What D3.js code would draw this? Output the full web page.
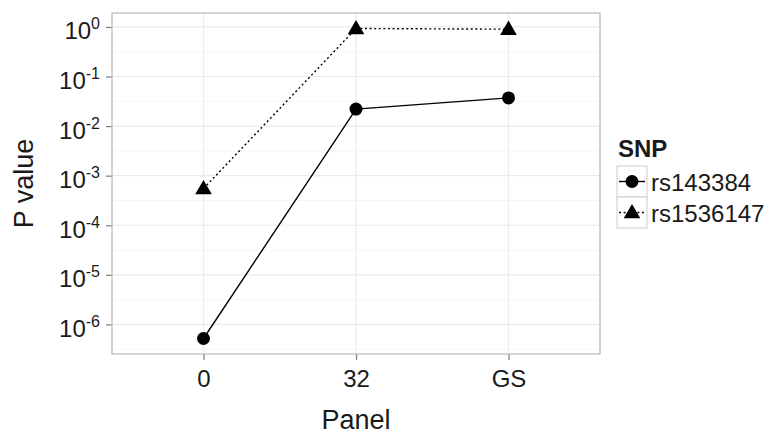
<!DOCTYPE html>
<html>
<head>
<meta charset="utf-8">
<script src="https://cdn.jsdelivr.net/npm/d3@7"></script>
<style>
  body { margin: 0; background: #fff; }
  text { font-family: "Liberation Sans", Arial, Helvetica, sans-serif; fill: #1a1a1a; }
</style>
</head>
<body>
<div id="main"></div>
<script>
// values
const panels = ["0", "32", "GS"];
const snps = ["rs143384", "rs1536147"];
const pRs143384 = [5.2e-7, 0.022, 0.037];
const pRs1536147 = [5.5e-4, 0.93, 0.9];
const yTicks = [0, -1, -2, -3, -4, -5, -6];   // exponents of 10

const W = 770, H = 434;
const plot = { left: 112, right: 600, top: 13, bottom: 354 };

const series = [
    { name: snps[0], values: pRs143384, shape: "circle", dash: null },
    { name: snps[1], values: pRs1536147, shape: "triangle", dash: "2,2.6" }
];

let svg = d3.select("#main").append("svg").attr("width", W).attr("height", H);

// log domain with 5% expansion (like ggplot)
let all = pRs143384.concat(pRs1536147).map(v => Math.log10(v));
let lo = d3.min(all), hi = d3.max(all);
let pad = (hi - lo) * 0.05;
let y = d3.scaleLog()
    .domain([Math.pow(10, lo - pad), Math.pow(10, hi + pad)])
    .range([plot.bottom, plot.top]);

let x = d3.scalePoint()
    .domain(panels)
    .range([plot.left, plot.right])
    .padding(0.6);

// grid
let grid = svg.append("g");
let minor = d3.range(Math.ceil(lo - pad) - 0.5, hi + pad, 1).filter(e => e > lo - pad && e < hi + pad);
grid.selectAll(".minor").data(minor).enter().append("line")
    .attr("x1", plot.left).attr("x2", plot.right)
    .attr("y1", d => y(Math.pow(10, d))).attr("y2", d => y(Math.pow(10, d)))
    .attr("stroke", "#f5f5f5").attr("stroke-width", 1);
grid.selectAll(".major").data(yTicks).enter().append("line")
    .attr("x1", plot.left).attr("x2", plot.right)
    .attr("y1", d => y(Math.pow(10, d))).attr("y2", d => y(Math.pow(10, d)))
    .attr("stroke", "#ebebeb").attr("stroke-width", 1.2);
grid.selectAll(".vmajor").data(panels).enter().append("line")
    .attr("x1", d => x(d)).attr("x2", d => x(d))
    .attr("y1", plot.top).attr("y2", plot.bottom)
    .attr("stroke", "#ebebeb").attr("stroke-width", 1.2);

// axes
let yAxis = svg.append("g")
    .attr("transform", `translate(${plot.left},0)`)
    .call(d3.axisLeft(y).tickValues(yTicks.map(e => Math.pow(10, e))).tickSize(6).tickPadding(5).tickFormat(""));
yAxis.select(".domain").remove();
yAxis.selectAll(".tick line").attr("stroke", "#7f7f7f").attr("stroke-width", 1.2);
yAxis.selectAll(".tick text").remove();
yAxis.selectAll(".tick").each(function(d) {
    let e = Math.round(Math.log10(d));
    let t = d3.select(this).append("text")
        .attr("x", -12).attr("y", 12)
        .attr("text-anchor", "end")
        .style("font-size", "24px");
    t.append("tspan").text("10");
    t.append("tspan").attr("dy", -10).style("font-size", "16px").text(e);
});

let xAxis = svg.append("g")
    .attr("transform", `translate(0,${plot.bottom})`)
    .call(d3.axisBottom(x).tickSize(6).tickPadding(6));
xAxis.select(".domain").remove();
xAxis.selectAll(".tick line").attr("stroke", "#7f7f7f").attr("stroke-width", 1.2);
xAxis.selectAll(".tick text")
    .attr("y", 33).attr("dy", null)
    .style("font-size", "24px").style("fill", "#1a1a1a");

// panel border
svg.append("rect")
    .attr("x", plot.left).attr("y", plot.top)
    .attr("width", plot.right - plot.left).attr("height", plot.bottom - plot.top)
    .attr("fill", "none").attr("stroke", "#b8b8b8").attr("stroke-width", 1.2);

// lines + points
let triangle = d3.symbol().type(d3.symbolTriangle).size(120);
let line = d3.line().x((d, i) => x(panels[i])).y(d => y(d));

series.forEach(s => {
    svg.append("path")
        .attr("d", line(s.values))
        .attr("fill", "none").attr("stroke", "#000").attr("stroke-width", 1.4)
        .attr("stroke-dasharray", s.dash);
    s.values.forEach((v, i) => {
        if (s.shape === "circle") {
            svg.append("circle").attr("cx", x(panels[i])).attr("cy", y(v)).attr("r", 6.5).attr("fill", "#000");
        } else {
            svg.append("path").attr("d", triangle)
                .attr("transform", `translate(${x(panels[i])},${y(v) + 1})`).attr("fill", "#000");
        }
    });
});

// axis titles
svg.append("text")
    .attr("x", (plot.left + plot.right) / 2).attr("y", 429)
    .attr("text-anchor", "middle").style("font-size", "27px").text("Panel");
svg.append("text")
    .attr("transform", `translate(33,${(plot.top + plot.bottom) / 2}) rotate(-90)`)
    .attr("text-anchor", "middle").style("font-size", "27px").text("P value");

// legend
let lg = svg.append("g").attr("transform", "translate(617,135)");
lg.append("text").attr("x", 1).attr("y", 22)
    .style("font-size", "24px").style("font-weight", "bold").text("SNP");
series.forEach((s, i) => {
    let k = lg.append("g").attr("transform", `translate(0,${31 + i * 31})`);
    k.append("rect").attr("width", 30).attr("height", 31)
        .attr("fill", "#fff").attr("stroke", "#cccccc").attr("stroke-width", 1);
    k.append("line").attr("x1", 2).attr("x2", 28).attr("y1", 15.5).attr("y2", 15.5)
        .attr("stroke", "#000").attr("stroke-width", 1.4).attr("stroke-dasharray", s.dash);
    if (s.shape === "circle") {
        k.append("circle").attr("cx", 15).attr("cy", 15.5).attr("r", 6.5).attr("fill", "#000");
    } else {
        k.append("path").attr("d", triangle).attr("transform", "translate(15,16.5)").attr("fill", "#000");
    }
    k.append("text").attr("x", 34).attr("y", 25).style("font-size", "24px").text(s.name);
});
</script>
</body>
</html>
